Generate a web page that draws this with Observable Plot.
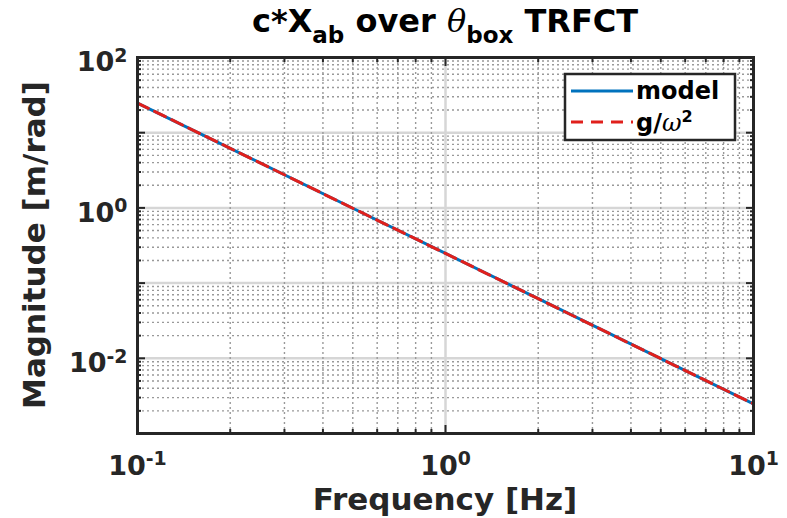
<!DOCTYPE html>
<html><head><meta charset="utf-8">
<script src="https://cdn.jsdelivr.net/npm/d3@7"></script>
<script src="https://cdn.jsdelivr.net/npm/@observablehq/plot@0.6"></script>
<style>
body{margin:0;background:#fff;}
#chart{position:relative;width:787px;height:518px;}
</style></head><body><div id="chart"></div>
<script>
// Data
const frequency = [0.1, 0.2, 0.5, 1, 2, 5, 10];            // Hz
const modelMag = [24.8, 6.2, 0.99, 0.248, 0.062, 0.0099, 0.00248];   // m/rad
const gOverOmega2 = [24.8, 6.2, 0.99, 0.248, 0.062, 0.0099, 0.00248];
// Ticks
const xLabelTicks = [0.1, 1, 10];
const yLabelTicks = [0.01, 1, 100];
const xMajor = [0.1, 1, 10];
const xMinor = [0.2, 0.3, 0.4, 0.5, 0.6, 0.7, 0.8, 0.9, 2, 3, 4, 5, 6, 7, 8, 9];
const yMajor = [0.001, 0.01, 0.1, 1, 10, 100];
const yMinor = [0.002, 0.003, 0.004, 0.005, 0.006, 0.007, 0.008, 0.009,
                0.02, 0.03, 0.04, 0.05, 0.06, 0.07, 0.08, 0.09,
                0.2, 0.3, 0.4, 0.5, 0.6, 0.7, 0.8, 0.9,
                2, 3, 4, 5, 6, 7, 8, 9,
                20, 30, 40, 50, 60, 70, 80, 90];
const seriesNames = ["model", "g/ω²"];

const rows = frequency.map((f, i) => ({f, model: modelMag[i], g: gOverOmega2[i]}));

const ink = "#262626";
const blue = "#0072BD";
const red = "#e0201c";
const expFmt = d => "10^" + Math.round(Math.log10(d));
const empty = () => "";

const plot = Plot.plot({
  width: 787, height: 518,
  marginLeft: 137, marginRight: 34, marginTop: 57, marginBottom: 85,
  style: {fontFamily: "DejaVu Sans", fontWeight: "bold", color: ink, background: "#fff"},
  x: {type: "log", domain: [0.1, 10]},
  y: {type: "log", domain: [0.001, 100]},
  marks: [
    Plot.gridX(xMajor, {stroke: "#d6d6d6", strokeOpacity: 1, strokeWidth: 2.5}),
    Plot.gridY(yMajor, {stroke: "#d6d6d6", strokeOpacity: 1, strokeWidth: 2.5}),
    Plot.gridX(xMinor, {stroke: "#999", strokeOpacity: 1, strokeWidth: 1.4, strokeDasharray: "2,3"}),
    Plot.gridY(yMinor, {stroke: "#999", strokeOpacity: 1, strokeWidth: 1.4, strokeDasharray: "2,3"}),
    Plot.line(rows, {x: "f", y: "model", stroke: blue, strokeWidth: 3}),
    Plot.line(rows, {x: "f", y: "g", stroke: red, strokeWidth: 3, strokeDasharray: "12,7"}),
    // inward ticks on all four sides
    Plot.axisX(xMajor, {anchor: "bottom", tickSize: -8, tickFormat: empty, label: null, stroke: ink, strokeWidth: 2}),
    Plot.axisX(xMinor, {anchor: "bottom", tickSize: -4, tickFormat: empty, label: null, stroke: ink, strokeWidth: 2}),
    Plot.axisX(xMajor, {anchor: "top", tickSize: -8, tickFormat: empty, label: null, stroke: ink, strokeWidth: 2}),
    Plot.axisX(xMinor, {anchor: "top", tickSize: -4, tickFormat: empty, label: null, stroke: ink, strokeWidth: 2}),
    Plot.axisY(yMajor, {anchor: "left", tickSize: -8, tickFormat: empty, label: null, stroke: ink, strokeWidth: 2}),
    Plot.axisY(yMinor, {anchor: "left", tickSize: -4, tickFormat: empty, label: null, stroke: ink, strokeWidth: 2}),
    Plot.axisY(yMajor, {anchor: "right", tickSize: -8, tickFormat: empty, label: null, stroke: ink, strokeWidth: 2}),
    Plot.axisY(yMinor, {anchor: "right", tickSize: -4, tickFormat: empty, label: null, stroke: ink, strokeWidth: 2}),
    // labelled ticks
    Plot.axisX(xLabelTicks, {anchor: "bottom", tickSize: 0, tickPadding: 22, tickFormat: expFmt, label: null, fontSize: 27, fill: ink}),
    Plot.axisY(yLabelTicks, {anchor: "left", tickSize: 0, tickPadding: 10, tickFormat: expFmt, label: null, fontSize: 27, fill: ink, dy: 5}),
    Plot.frame({stroke: ink, strokeWidth: 3})
  ]
});

document.getElementById("chart").appendChild(plot);

const svg = d3.select(plot);
// superscript exponents on tick labels
svg.selectAll("text").each(function() {
  const t = this.textContent;
  if (!t.startsWith("10^")) return;
  const exp = t.slice(3);
  const sel = d3.select(this);
  sel.text("10");
  sel.append("tspan").attr("dy", "-0.5em").attr("font-size", "0.7em").text(exp);
});

const xs = plot.scale("x"), ys = plot.scale("y");
const cx = (xs.range[0] + xs.range[1]) / 2;
const cy = (ys.range[0] + ys.range[1]) / 2;

// Title
const title = svg.append("text").attr("x", cx).attr("y", 32).attr("text-anchor", "middle")
  .attr("font-size", 32).attr("font-weight", "bold").attr("fill", "#000");
title.append("tspan").text("c*X");
title.append("tspan").attr("dy", 11).attr("font-size", 23).text("ab");
title.append("tspan").attr("dy", -11).text(" over ");
title.append("tspan").attr("font-style", "italic").attr("font-weight", "normal").attr("font-family", "DejaVu Serif").text("θ");
title.append("tspan").attr("dy", 11).attr("font-size", 23).text("box");
title.append("tspan").attr("dy", -11).text(" TRFCT");

// Axis labels
svg.append("text").attr("x", cx).attr("y", 510).attr("text-anchor", "middle")
  .attr("font-size", 31).attr("fill", ink).text("Frequency [Hz]");
svg.append("text").attr("transform", `translate(45,${cy}) rotate(-90)`).attr("text-anchor", "middle")
  .attr("font-size", 31).attr("fill", ink).text("Magnitude [m/rad]");

// Legend
const lg = svg.append("g").attr("text-anchor", "start");
lg.append("rect").attr("x", 565).attr("y", 74).attr("width", 170).attr("height", 66)
  .attr("fill", "#fff").attr("stroke", ink).attr("stroke-width", 2.5);
lg.append("line").attr("x1", 571).attr("x2", 633).attr("y1", 91).attr("y2", 91)
  .attr("stroke", blue).attr("stroke-width", 3);
lg.append("text").attr("x", 636).attr("y", 99).attr("font-size", 24).attr("fill", "#000").text(seriesNames[0]);
lg.append("line").attr("x1", 571).attr("x2", 633).attr("y1", 122).attr("y2", 122)
  .attr("stroke", red).attr("stroke-width", 3).attr("stroke-dasharray", "12,8");
const t2 = lg.append("text").attr("x", 636).attr("y", 131).attr("font-size", 24).attr("fill", "#000");
t2.append("tspan").text("g/");
t2.append("tspan").attr("font-style", "italic").attr("font-weight", "normal").attr("font-family", "DejaVu Serif").text("ω");
t2.append("tspan").attr("dy", -9).attr("font-size", 16).text("2");
</script></body></html>
